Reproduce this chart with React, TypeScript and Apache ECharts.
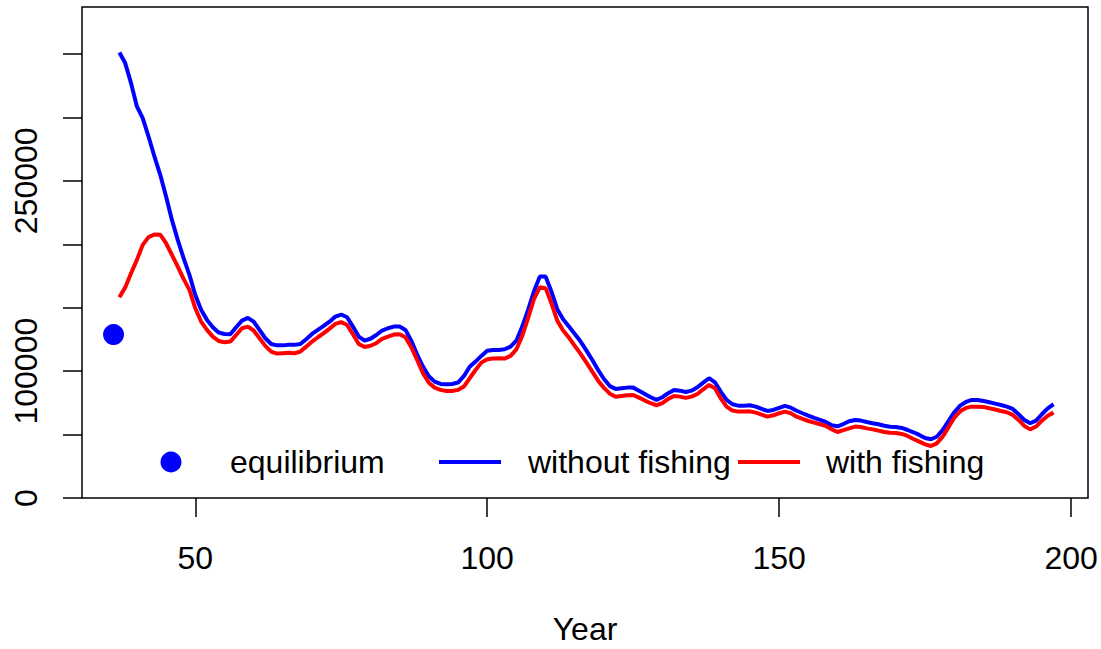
import React, { useEffect, useRef } from "react";
import * as echarts from "echarts";

const startYear = 37;
const withoutFishing = [
  351200, 342800, 327000, 308600, 299400, 284900, 269200, 254700, 237600, 219200,
  203500, 189000, 175900, 160000, 148300, 140400, 134600, 130400, 129300, 129000,
  134600, 139800, 142000, 139000, 132500, 125900, 121400, 120300, 120300, 120700,
  120700, 121400, 125100, 129300, 132500, 135600, 139000, 143000, 144600, 142500,
  135100, 127200, 124000, 125500, 128500, 132000, 133800, 135100, 135100, 132500,
  124000, 113000, 103600, 96000, 91700, 89900, 89700, 89900, 91000, 96000,
  103500, 107500, 112000, 116000, 116700, 116700, 117200, 119300, 124000, 135100,
  148300, 162700, 174500, 174500, 162700, 148800, 140900, 135100, 129300, 123300,
  116200, 108800, 100900, 93800, 88200, 86000, 86500, 87000, 87000, 84600,
  82000, 79400, 77300, 79400, 82600, 85200, 84600, 83600, 84600, 87300,
  90900, 94400, 91200, 83800, 77300, 73900, 72800, 72800, 73100, 72000,
  70200, 68600, 69400, 71000, 72600, 71200, 68800, 66800, 64900, 63100,
  61500, 59900, 57300, 56500, 58300, 60500, 61500, 61000, 59900, 58900,
  58100, 57000, 56200, 56000, 55200, 53600, 51800, 49700, 47300, 46300,
  48300, 53600, 60700, 67600, 72800, 75700, 77300, 77300, 76500, 75500,
  74400, 73300, 72000, 70200, 66000, 61500, 58900, 61000, 66000, 70700,
  73900,
];
const withFishing = [
  158300, 166000, 177200, 187700, 199500, 205600, 207700, 207500, 200800, 191600,
  182400, 172700, 164000, 149600, 139100, 132500, 127200, 123800, 122800, 123300,
  128500, 133800, 135100, 132000, 125900, 119900, 115400, 113800, 114100, 114400,
  114100, 115400, 119300, 123300, 126700, 129900, 133500, 137200, 138600, 136400,
  129100, 121400, 119000, 120000, 122000, 125400, 127200, 128800, 129100, 126700,
  118800, 108800, 98300, 90900, 87000, 85200, 84400, 84400, 85200, 87800,
  94400, 100900, 106700, 109400, 109900, 110100, 109900, 112000, 117200, 127800,
  141700, 156700, 166100, 165400, 153500, 139800, 132000, 126400, 119900, 113600,
  106700, 99600, 92500, 86800, 82200, 79800, 80400, 81000, 81200, 79100,
  76800, 74700, 73100, 74700, 78100, 80400, 79900, 78900, 79900, 82000,
  85700, 89100, 86500, 78600, 72000, 68900, 68100, 68100, 68300, 67300,
  65700, 64100, 65200, 66800, 68100, 66800, 64100, 62300, 60700, 59400,
  58100, 56800, 54100, 52000, 53500, 54900, 56300, 56000, 54900, 54100,
  53100, 52000, 51500, 51300, 50500, 48900, 46500, 44400, 42300, 41000,
  43100, 48400, 55700, 63300, 68300, 71000, 72000, 72000, 71800, 70700,
  69700, 68600, 67600, 65500, 61500, 56800, 54100, 56300, 61000, 64900,
  67300,
];
const equilibriumYear = 36;
const equilibriumValue = 128800;

const xTicks = [50, 100, 150, 200];
const yTicks = [0, 50000, 100000, 150000, 200000, 250000, 300000, 350000];
const yLabels = [0, 100000, 250000];
const legendLabels = ["equilibrium", "without fishing", "with fishing"];

const FONT = "Liberation Sans, Arial, Helvetica, sans-serif";
const FS = 32;

export default function App() {
  const ref = useRef<HTMLDivElement>(null);
  useEffect(() => {
    if (!ref.current) return;
    const chart = echarts.init(ref.current, undefined, { renderer: "svg" });
    const years = withoutFishing.map((_, i) => startYear + i);
    const legendY = 462;
    chart.setOption({
      animation: false,
      backgroundColor: "#fff",
      textStyle: { fontFamily: FONT },
      grid: {
        left: 82,
        right: 13,
        top: 7,
        bottom: 151,
        show: true,
        borderColor: "#000",
        borderWidth: 1.5,
        backgroundColor: "transparent",
        outerBoundsMode: "none",
      },
      xAxis: {
        type: "value",
        min: 30.6,
        max: 202.9,
        name: "Year",
        nameLocation: "middle",
        nameGap: 115,
        nameTextStyle: { fontSize: FS, color: "#000", fontFamily: FONT },
        axisLine: { show: false },
        splitLine: { show: false },
        axisTick: { show: true, customValues: xTicks, length: 19, lineStyle: { color: "#000", width: 1.5 } },
        axisLabel: {
          customValues: xTicks,
          margin: 44,
          fontSize: FS,
          color: "#000",
          fontFamily: FONT,
          formatter: (v: number) => String(v),
        },
      },
      yAxis: {
        type: "value",
        min: 0,
        max: 387000,
        axisLine: { show: false },
        splitLine: { show: false },
        axisTick: { show: true, customValues: yTicks, length: 19, lineStyle: { color: "#000", width: 1.5 } },
        axisLabel: {
          customValues: yLabels,
          rotate: 90,
          margin: 40,
          fontSize: FS,
          color: "#000",
          fontFamily: FONT,
          formatter: (v: number) => String(v),
        },
      },
      series: [
        {
          name: "without fishing",
          type: "line",
          data: years.map((y, i) => [y, withoutFishing[i]]),
          showSymbol: false,
          lineStyle: { color: "#0000ff", width: 4 },
          itemStyle: { color: "#0000ff" },
          z: 3,
        },
        {
          name: "with fishing",
          type: "line",
          data: years.map((y, i) => [y, withFishing[i]]),
          showSymbol: false,
          lineStyle: { color: "#ff0000", width: 4 },
          itemStyle: { color: "#ff0000" },
          z: 4,
        },
        {
          name: "equilibrium",
          type: "scatter",
          data: [[equilibriumYear, equilibriumValue]],
          symbol: "circle",
          symbolSize: 21,
          itemStyle: { color: "#0000ff", opacity: 1 },
          z: 5,
        },
      ],
      graphic: [
        { type: "circle", shape: { cx: 171, cy: legendY, r: 10.5 }, style: { fill: "#0000ff" } },
        {
          type: "text",
          x: 230,
          y: legendY,
          style: { text: legendLabels[0], fontSize: FS, fontFamily: FONT, fill: "#000", verticalAlign: "middle" },
        },
        {
          type: "line",
          shape: { x1: 439, y1: legendY, x2: 501, y2: legendY },
          style: { stroke: "#0000ff", lineWidth: 4 },
        },
        {
          type: "text",
          x: 528,
          y: legendY,
          style: { text: legendLabels[1], fontSize: FS, fontFamily: FONT, fill: "#000", verticalAlign: "middle" },
        },
        {
          type: "line",
          shape: { x1: 738, y1: legendY, x2: 800, y2: legendY },
          style: { stroke: "#ff0000", lineWidth: 4 },
        },
        {
          type: "text",
          x: 826,
          y: legendY,
          style: { text: legendLabels[2], fontSize: FS, fontFamily: FONT, fill: "#000", verticalAlign: "middle" },
        },
      ],
    });
    return () => chart.dispose();
  }, []);
  return <div ref={ref} style={{ width: 1101, height: 649, position: "absolute", left: 0, top: 0 }} />;
}
